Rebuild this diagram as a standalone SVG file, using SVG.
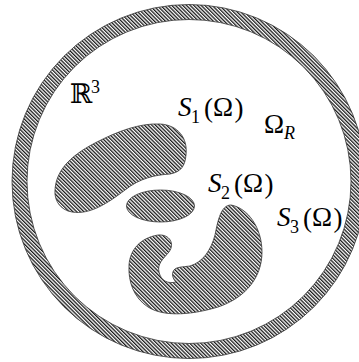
<svg xmlns="http://www.w3.org/2000/svg" width="359" height="362" viewBox="0 0 359 362">
<style>
.sh{fill:url(#hatch);stroke:#333;stroke-width:0.8}
.t{font-family:"Liberation Serif","DejaVu Serif",serif;font-size:27px;fill:#000}
.it{font-style:italic}
.sub{font-size:18px}
</style>
<defs>
<pattern id="hatch" patternUnits="userSpaceOnUse" width="2.6" height="2.6" patternTransform="rotate(-45)">
<rect width="2.6" height="2.6" fill="#fff"/>
<rect width="1.3" height="2.6" fill="#1a1a1a"/>
</pattern>
</defs>
<rect width="359" height="362" fill="#fff"/>
<g id="ring">
<path class="sh" fill-rule="evenodd" stroke="#777" stroke-width="0.6" d="M12,181.5 a177,177 0 1,0 354,0 a177,177 0 1,0 -354,0 Z M27,181.5 a162,162 0 1,1 324,0 a162,162 0 1,1 -324,0 Z"/>
</g>
<g id="S1">
<path class="sh" d="M55,190 C56,172 68,157 95,143 C118,131 140,123 160,124 C178,125 188,138 186,155 C185,166 181,172 170,174 C155,175 140,178 125,190 C108,203 90,215 72,212 C60,210 54,200 55,190 Z"/>
</g>
<g id="S2">
<ellipse class="sh" cx="160.5" cy="206" rx="34" ry="16"/>
</g>
<g id="S3">
<path class="sh" d="M231,205 C248,208 262,228 262,252 C262,278 245,298 218,307 C195,314 165,318 148,307 C134,298 128,282 129,265 C130,250 140,238 158,235 C170,234 175,244 169,252 C163,259 157,264 159,272 C161,281 168,284 176,282 C173,279 171,274 174,270 C176,267 182,267 190,266 C203,262 211,250 215,235 C218,220 221,205 231,205 Z"/>
</g>
<g id="labels">
<text class="t" x="70" y="103" font-size="28">ℝ<tspan class="sub" x="91" y="93">3</tspan></text>
<text class="t"><tspan class="it" x="178" y="116">S</tspan><tspan class="sub" x="191" y="123">1</tspan><tspan x="204" y="117">(</tspan><tspan x="213" y="116">Ω</tspan><tspan x="234.5" y="117">)</tspan></text>
<text class="t"><tspan x="264" y="133">Ω</tspan><tspan class="sub it" x="284" y="139">R</tspan></text>
<text class="t"><tspan class="it" x="208" y="192">S</tspan><tspan class="sub" x="221" y="199">2</tspan><tspan x="234" y="193">(</tspan><tspan x="243" y="192">Ω</tspan><tspan x="264.5" y="193">)</tspan></text>
<text class="t"><tspan class="it" x="277" y="226">S</tspan><tspan class="sub" x="290" y="233">3</tspan><tspan x="303" y="227">(</tspan><tspan x="312" y="226">Ω</tspan><tspan x="333.5" y="227">)</tspan></text>
</g>
</svg>
